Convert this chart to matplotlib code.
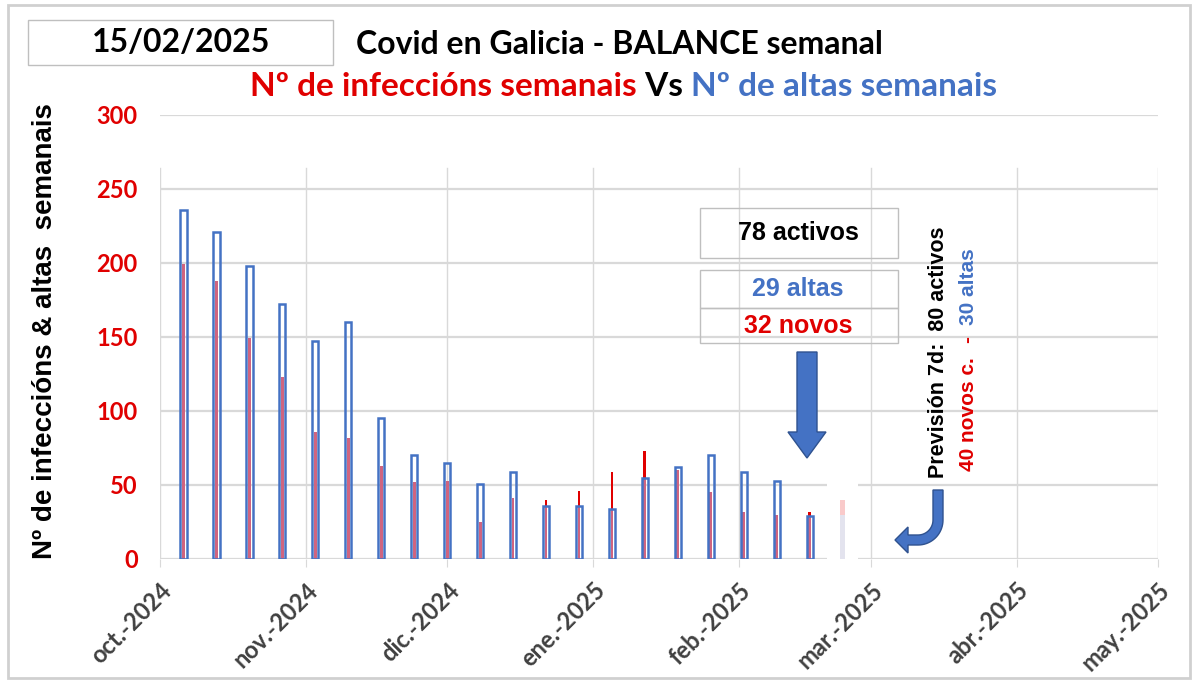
import numpy as np
import pandas as pd
import matplotlib
matplotlib.use("Agg")
import matplotlib.pyplot as plt
from matplotlib.patches import Rectangle, Polygon

# weekly data
fechas = ["2024-10-06", "2024-10-13", "2024-10-20", "2024-10-27", "2024-11-03",
          "2024-11-10", "2024-11-17", "2024-11-24", "2024-12-01", "2024-12-08",
          "2024-12-15", "2024-12-22", "2024-12-29", "2025-01-05", "2025-01-12",
          "2025-01-19", "2025-01-26", "2025-02-02", "2025-02-09", "2025-02-16"]
altas = [236, 221, 198, 172, 147, 160, 95, 70, 65, 51,
         59, 36, 36, 34, 55, 62, 70, 59, 53, 29]
infeccions = [199, 188, 149, 123, 86, 82, 63, 52, 53, 25,
              41, 40, 46, 59, 73, 60, 45, 32, 30, 32]

# forecast for next week
prev_fecha = "2025-02-23"
prev_novos = 40
prev_altas = 30
prev_activos = 80
activos = 78

mes_ticks = ["2024-10-01", "2024-11-01", "2024-12-01", "2025-01-01",
             "2025-02-01", "2025-03-01", "2025-04-01", "2025-05-01"]
mes_labels = ["oct.-2024", "nov.-2024", "dic.-2024", "ene.-2025",
              "feb.-2025", "mar.-2025", "abr.-2025", "may.-2025"]

RED = "#E00000"
BLUE = "#4472C4"
GRID = "#D9D9D9"
W, H = 1200, 684


def fp(px, py):
    # pixel position -> figure fraction
    return px / W, 1 - py / H


x = pd.to_datetime(fechas)
xp = pd.to_datetime(prev_fecha)
alt = np.array(altas)
inf = np.array(infeccions)

fig = plt.figure(figsize=(12, 6.84), dpi=100)
ax = fig.add_axes([160 / W, 1 - 559 / H, (1158 - 160) / W, (559 - 115) / H])

# outer frame
fig.patches.append(Rectangle(fp(8, 678), 1182 / W, 673 / H, transform=fig.transFigure,
                             fill=False, edgecolor="#D0D0D0", lw=2))

# white patch behind forecast bar
ax.bar(xp, 56, width=6.5, color="white", zorder=1.2)
ax.bar(xp, prev_novos, width=0.9, color="#F9CACA", zorder=2)
ax.bar(xp, prev_altas, width=0.9, color="#E3E3EE", zorder=2.1)

ax.bar(x, inf, width=0.6, color=RED, zorder=2)
ax.bar(x, np.minimum(inf, alt), width=0.6, color="#CF6480", zorder=2.1)
ax.bar(x, alt, width=1.3, facecolor="none", edgecolor=BLUE, lw=1.8, zorder=2.2)

ax.set_ylim(0, 300)
ax.set_xlim(pd.to_datetime(mes_ticks[0]), pd.to_datetime(mes_ticks[-1]))
ax.set_yticks(range(0, 301, 50))
ax.yaxis.grid(True, color=GRID, lw=1.6)
for t in mes_ticks:
    ax.axvline(pd.to_datetime(t), ymax=0.88, color=GRID, lw=1, zorder=0.5)
ax.set_axisbelow(True)
for s in ax.spines.values():
    s.set_visible(False)

ax.set_xticks(pd.to_datetime(mes_ticks))
ax.set_xticklabels(mes_labels, rotation=45, ha="right", va="top", rotation_mode="anchor",
                   fontsize=17, fontweight="bold", color="#404040", family="Lato")
ax.tick_params(axis="x", length=6, color=GRID, pad=8)
ax.tick_params(axis="y", length=0, pad=16)
for lab in ax.get_yticklabels():
    lab.set_color(RED)
    lab.set_fontweight("bold")
    lab.set_fontsize(17)
    lab.set_family("Lato")

fig.text(*fp(45, 331), "Nº de infeccións & altas  semanais", rotation=90, ha="center",
         va="center", fontsize=20, fontweight="bold", family="Liberation Sans")

# date box and titles
fig.patches.append(Rectangle(fp(28, 65), 305 / W, 45 / H, transform=fig.transFigure,
                             fill=False, edgecolor="#BFBFBF", lw=1))
fig.text(*fp(181, 43), "15/02/2025", ha="center", va="center", fontsize=23,
         fontweight="bold", family="Lato")
fig.text(*fp(356, 45), "Covid en Galicia - BALANCE semanal", ha="left", va="center",
         fontsize=23, fontweight="bold", family="Lato")

renderer = fig.canvas.get_renderer()
pieces = [("Nº de infeccións semanais", RED), (" Vs ", "black"), ("Nº de altas semanais", BLUE)]
cx = 250
for txt, col in pieces:
    t = fig.text(*fp(cx, 87), txt, ha="left", va="center", fontsize=24,
                 fontweight="bold", color=col, family="Lato")
    cx += t.get_window_extent(renderer).width

# info boxes
fig.patches.append(Rectangle(fp(700, 258), 198 / W, 50 / H, transform=fig.transFigure,
                             fill=False, edgecolor="#BFBFBF", lw=1))
fig.patches.append(Rectangle(fp(700, 308), 198 / W, 38 / H, transform=fig.transFigure,
                             fill=False, edgecolor="#BFBFBF", lw=1))
fig.patches.append(Rectangle(fp(700, 343), 198 / W, 35 / H, transform=fig.transFigure,
                             fill=False, edgecolor="#BFBFBF", lw=1))
fig.text(*fp(798, 233), f"{activos} activos", ha="center", va="center", fontsize=18,
         fontweight="bold", family="Liberation Sans")
fig.text(*fp(798, 289), f"{altas[-1]} altas", ha="center", va="center", fontsize=18,
         fontweight="bold", color=BLUE, family="Liberation Sans")
fig.text(*fp(798, 326), f"{infeccions[-1]} novos", ha="center", va="center", fontsize=18,
         fontweight="bold", color=RED, family="Liberation Sans")

# big down arrow
arrow = [(797, 352), (817, 352), (817, 432), (826, 432), (807, 458), (788, 432), (797, 432)]
fig.patches.append(Polygon([fp(*p) for p in arrow], closed=True, transform=fig.transFigure,
                           facecolor=BLUE, edgecolor="#2F528F", lw=1))

# curved arrow
ang = np.linspace(0, np.pi / 2, 20)
outer = [(918 + 25 * np.cos(a), 520 + 25 * np.sin(a)) for a in ang]
inner = [(918 + 15 * np.cos(a), 520 + 15 * np.sin(a)) for a in ang[::-1]]
curve = [(933, 490), (943, 490)] + outer + [(908, 545), (908, 553), (895, 540), (908, 527),
                                            (908, 535)] + inner + [(933, 490)]
fig.patches.append(Polygon([fp(*p) for p in curve], closed=True, transform=fig.transFigure,
                           facecolor=BLUE, edgecolor="#2F528F", lw=1))

# forecast texts
fig.text(*fp(939, 478), f"Previsión 7d:  {prev_activos} activos", rotation=90, ha="center",
         va="bottom", fontsize=15.5, fontweight="bold", family="Liberation Sans")
fig.text(*fp(968, 471), f"{prev_novos} novos c.", rotation=90, ha="center", va="bottom",
         fontsize=15, fontweight="bold", color=RED, family="Liberation Sans")
fig.text(*fp(968, 340), "-", rotation=90, ha="center", va="center",
         fontsize=15, fontweight="bold", color=RED, family="Liberation Sans")
fig.text(*fp(968, 325), f"{prev_altas} altas", rotation=90, ha="center", va="bottom",
         fontsize=15, fontweight="bold", color=BLUE, family="Liberation Sans")

fig.savefig("out.png", dpi=100)
